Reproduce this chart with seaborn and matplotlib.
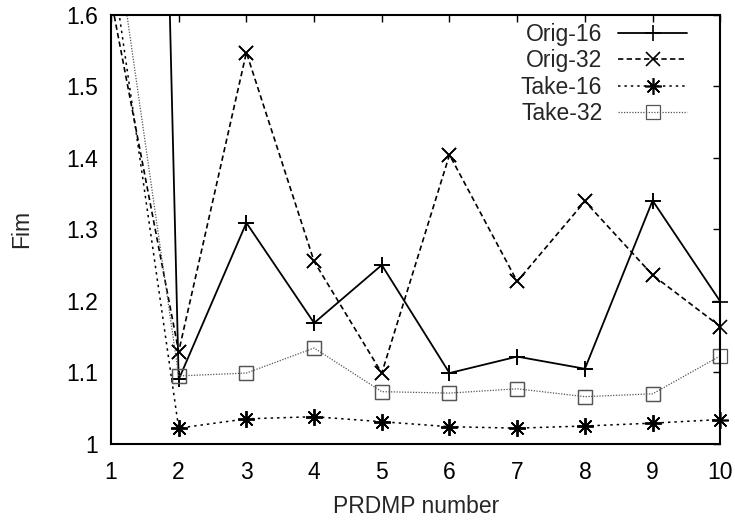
import matplotlib
matplotlib.use("Agg")
import matplotlib.pyplot as plt
import seaborn as sns
import pandas as pd

# PRDMP number on the x axis
prdmp = [1, 2, 3, 4, 5, 6, 7, 8, 9, 10]

# Fim per configuration
orig16 = [5.00, 1.090, 1.309, 1.169, 1.250, 1.099, 1.122, 1.105, 1.340, 1.199]
orig32 = [1.622, 1.129, 1.547, 1.255, 1.099, 1.404, 1.227, 1.339, 1.236, 1.164]
take16 = [1.680, 1.022, 1.035, 1.038, 1.031, 1.024, 1.022, 1.025, 1.029, 1.034]
take32 = [1.755, 1.095, 1.099, 1.134, 1.073, 1.071, 1.077, 1.066, 1.070, 1.123]

series_names = ["Orig-16", "Orig-32", "Take-16", "Take-32"]
yticks = [1.0, 1.1, 1.2, 1.3, 1.4, 1.5, 1.6]
ytick_labels = ["1", "1.1", "1.2", "1.3", "1.4", "1.5", "1.6"]
ylim = (1.0, 1.6)

sns.set_style("white")
plt.rcParams["font.family"] = ["Liberation Sans", "DejaVu Sans"]
FS = 16.5

df = pd.DataFrame({
    "PRDMP": prdmp * 4,
    "Fim": orig16 + orig32 + take16 + take32,
    "series": sum([[n] * len(prdmp) for n in series_names], []),
})

styles = {
    "Orig-16": dict(color="black", lw=1.3, dashes=None, marker="+", ms=11, mew=1.2),
    "Orig-32": dict(color="black", lw=1.2, dashes=(3.2, 2.0), marker="x", ms=10, mew=1.2),
    "Take-16": dict(color="black", lw=1.1, dashes=(1.6, 2.6), marker=(8, 2, 0), ms=12, mew=1.2),
    "Take-32": dict(color="#555555", lw=0.9, dashes=(1, 1.2), marker="s", ms=9.5, mew=0.9),
}

fig = plt.figure(figsize=(7.35, 5.21), dpi=100)
ax = fig.add_axes([0.151, 0.148, 0.829, 0.824])

for name in series_names:
    st = styles[name]
    sub = df[df["series"] == name]
    # connecting line with markers (clipped to the plot area)
    sns.lineplot(data=sub, x="PRDMP", y="Fim", ax=ax, label=name,
                 color=st["color"], linewidth=st["lw"], marker=st["marker"],
                 markersize=st["ms"], markeredgewidth=st["mew"],
                 markerfacecolor="none", markeredgecolor=st["color"],
                 estimator=None, sort=False, errorbar=None)
    ln = ax.get_lines()[-1]
    if st["dashes"] is not None:
        ln.set_dashes(st["dashes"])
    # markers inside the y range drawn unclipped so border points stay whole
    inside = sub[(sub["Fim"] >= ylim[0]) & (sub["Fim"] <= ylim[1])]
    sns.lineplot(data=inside, x="PRDMP", y="Fim", ax=ax, legend=False,
                 color=st["color"], linestyle="", marker=st["marker"],
                 markersize=st["ms"], markeredgewidth=st["mew"],
                 markerfacecolor="none", markeredgecolor=st["color"],
                 estimator=None, sort=False, errorbar=None)
    ax.get_lines()[-1].set_clip_on(False)

ax.set_xlim(1, 10)
ax.set_ylim(*ylim)
ax.set_xticks(prdmp)
ax.set_xticklabels([str(v) for v in prdmp])
ax.set_yticks(yticks)
ax.set_yticklabels(ytick_labels)

for side in ["left", "right", "top", "bottom"]:
    ax.spines[side].set_visible(True)
    ax.spines[side].set_color("black")
    ax.spines[side].set_linewidth(1.5)

ax.tick_params(axis="both", which="major", direction="in", length=5, width=1.0,
               top=True, right=True, labelsize=FS, colors="black")
ax.tick_params(axis="x", pad=12)
ax.tick_params(axis="y", pad=9)

ax.set_xlabel("PRDMP number", fontsize=FS, labelpad=8)
ax.set_ylabel("Fim", fontsize=FS, labelpad=24)

ax.legend(loc="upper right", bbox_to_anchor=(0.968, 1.013), frameon=False,
          markerfirst=False, fontsize=FS, handlelength=3.0, handletextpad=0.7,
          labelspacing=0.15, numpoints=1, borderaxespad=0.2)

fig.savefig("out.png", dpi=100)
